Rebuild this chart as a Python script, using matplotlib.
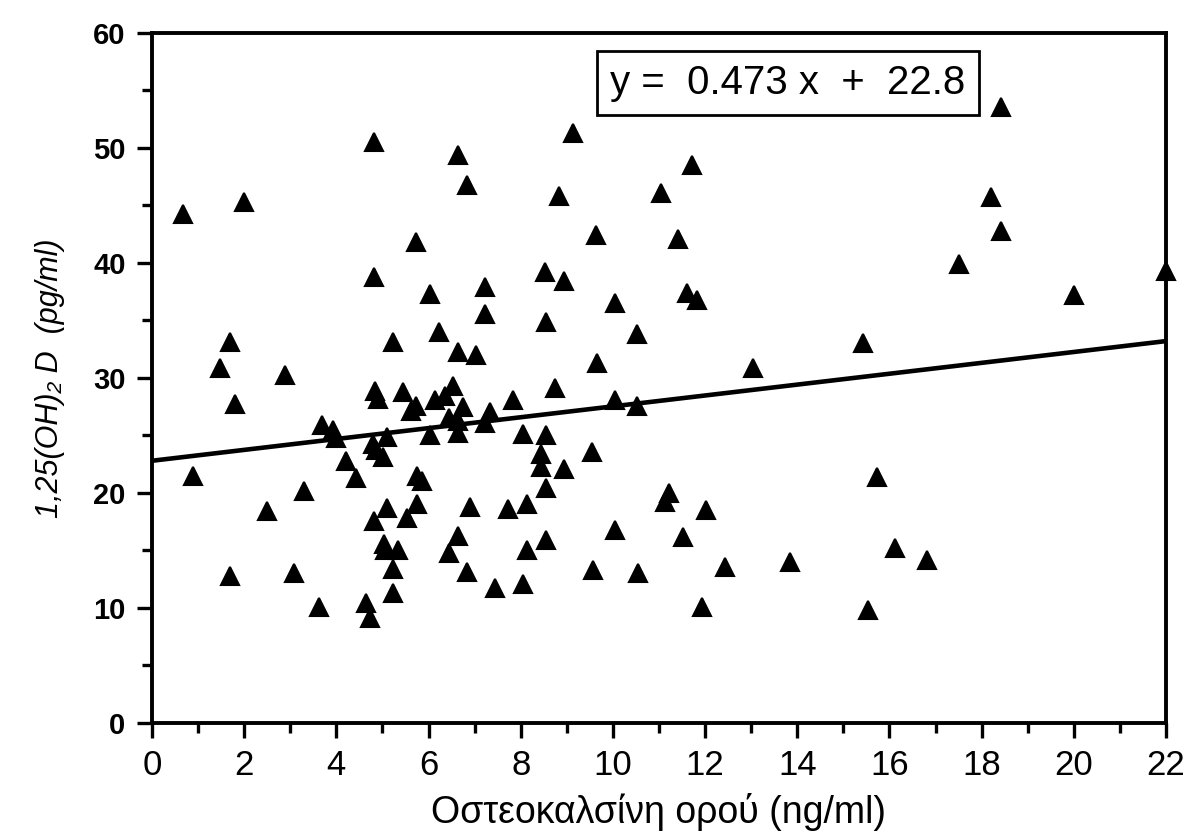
import matplotlib
matplotlib.use("Agg")
import matplotlib.pyplot as plt
import numpy as np

plt.rcParams['font.family'] = ['Liberation Sans', 'DejaVu Sans']

# Serum osteocalcin (ng/ml) and 1,25(OH)2D (pg/ml) for each subject
osteocalcin = [
    0.68, 2.0, 4.82, 6.63, 6.83, 5.73, 4.82, 6.03, 7.22, 7.22,
    6.23, 1.69, 5.22, 6.65, 7.03, 1.48, 2.89, 1.80, 4.84, 4.91,
    5.44, 5.73, 5.63, 6.14, 6.36, 6.54, 6.74, 6.45, 6.65, 6.63,
    7.33, 7.22, 7.84, 8.04, 3.70, 3.92, 4.0, 5.11, 6.03, 4.80,
    4.87, 5.02, 4.22, 4.42, 0.88, 5.74, 5.85, 3.30, 2.49, 5.11,
    4.82, 5.53, 5.74, 6.90, 7.73, 8.13, 6.65, 6.45, 5.04, 5.05,
    5.34, 5.23, 5.23, 1.69, 3.09, 6.83, 8.13, 8.06, 7.44, 3.62,
    4.64, 4.73,
    9.13, 11.71, 8.84, 11.04, 9.63, 11.42, 8.53, 8.94, 10.05, 11.6,
    11.82, 8.55, 10.53, 15.43, 9.65, 13.03, 8.74, 10.05, 10.53, 8.55,
    8.43, 8.43, 8.94, 9.54, 8.55, 11.22, 11.13, 12.02, 15.72, 10.05,
    11.53, 8.55, 16.12, 9.56, 10.55, 12.43, 13.84, 11.93, 15.54,
    18.43, 18.2, 18.43, 17.5, 20.0, 22.0, 16.81,
]
vitamin_d = [
    44.3, 45.3, 50.5, 49.4, 46.8, 41.8, 38.8, 37.3, 37.9, 35.6,
    34.0, 33.1, 33.1, 32.3, 32.0, 30.9, 30.3, 27.7, 28.9, 28.2,
    28.8, 27.6, 27.1, 28.1, 28.4, 29.3, 27.5, 26.5, 26.3, 25.2,
    27.0, 26.1, 28.1, 25.1, 25.9, 25.5, 24.8, 24.9, 25.0, 24.3,
    23.7, 23.1, 22.8, 21.3, 21.5, 21.5, 21.0, 20.2, 18.4, 18.7,
    17.6, 17.8, 19.0, 18.8, 18.6, 19.0, 16.3, 14.8, 15.6, 15.0,
    15.0, 13.4, 11.3, 12.8, 13.0, 13.1, 15.0, 12.1, 11.7, 10.1,
    10.4, 9.1,
    51.3, 48.5, 45.8, 46.1, 42.4, 42.1, 39.2, 38.4, 36.5, 37.4,
    36.8, 34.9, 33.8, 33.0, 31.3, 30.9, 29.1, 28.1, 27.6, 25.0,
    23.4, 22.3, 22.1, 23.6, 20.4, 20.0, 19.2, 18.5, 21.4, 16.8,
    16.2, 15.9, 15.2, 13.3, 13.0, 13.6, 14.0, 10.1, 9.8,
    53.6, 45.7, 42.8, 39.9, 37.2, 39.3, 14.2,
]

# Least-squares fit shown in the box
slope = 0.473
intercept = 22.8

x_ticks = list(range(0, 23, 2))
y_ticks = list(range(0, 61, 10))

fig = plt.figure(figsize=(11.9, 8.39), dpi=100)
ax = fig.add_axes([0.1277, 0.1383, 0.8521, 0.8224])

ax.plot(osteocalcin, vitamin_d, linestyle='none', marker='^', markersize=12.5,
        color='black', markeredgewidth=1.5, clip_on=False, zorder=3)

fit_x = np.array([0, 22])
ax.plot(fit_x, slope * fit_x + intercept, color='black', linewidth=3.3,
        solid_capstyle='butt', zorder=2)

ax.set_xlim(0, 22)
ax.set_ylim(0, 60)
ax.set_xticks(x_ticks)
ax.set_xticks(range(1, 22, 2), minor=True)
ax.set_yticks(y_ticks)
ax.set_yticks(range(5, 60, 10), minor=True)

for side in ['left', 'right', 'top', 'bottom']:
    ax.spines[side].set_linewidth(2.8)

ax.tick_params(axis='both', which='major', direction='out', length=11,
               width=2.4)
ax.tick_params(axis='both', which='minor', direction='out', length=7,
               width=2.4)
ax.tick_params(axis='x', which='major', labelsize=25, pad=8)
ax.tick_params(axis='y', which='major', labelsize=21, pad=8)
for lbl in ax.get_yticklabels():
    lbl.set_fontweight('bold')

ax.set_xlabel('Οστεοκαλσίνη ορού (ng/ml)', fontsize=27, labelpad=8)
ax.set_ylabel('1,25(OH)₂ D  (pg/ml)', fontsize=22, style='italic',
              labelpad=20)

ax.text(0.452, 0.9275, f'y =  {slope} x  +  {intercept}', transform=ax.transAxes,
        fontsize=29, ha='left', va='center',
        bbox=dict(boxstyle='square,pad=0.33', facecolor='white',
                  edgecolor='black', linewidth=2))

fig.savefig('out.png', dpi=100)
